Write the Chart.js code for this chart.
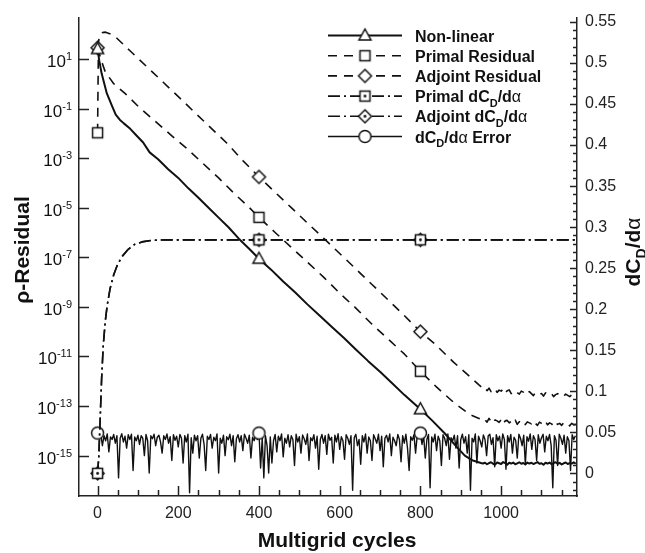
<!DOCTYPE html>
<html lang="en">
<head>
<meta charset="UTF-8">
<title>Convergence History</title>
<script src="https://cdn.jsdelivr.net/npm/chart.js@4.4.1/dist/chart.umd.min.js"></script>
<style>
    html, body { margin: 0; padding: 0; background: #fff; }
    #wrap { width: 645px; height: 553px; }
</style>
</head>
<body>
<div id="wrap"><canvas id="conv" width="645" height="553"></canvas></div>

<script>
// Axis ticks
const cycleTicks = [0, 200, 400, 600, 800, 1000];
const residualExponents = [1, -1, -3, -5, -7, -9, -11, -13, -15];
const derivTicks = [0, 0.05, 0.1, 0.15, 0.2, 0.25, 0.3, 0.35, 0.4, 0.45, 0.5, 0.55];
const markerCycles = [0, 400, 800];

// Residuals are kept as log10 values
const nonlinearCycles = [0, 4, 10, 23, 36, 45, 55, 65, 81, 97, 113, 129, 150, 175, 200, 225, 250, 275, 300, 325, 350, 375, 400,
    430, 460, 490, 520, 550, 580, 610, 640, 670, 700, 730, 760, 800, 830, 860, 890, 910, 930, 950];
const nonlinearLog = [1.4, 0.95, 0.42, -0.39, -0.9, -1.25, -1.45, -1.6, -1.82, -2.1, -2.37, -2.77, -3.05, -3.45, -3.8, -4.22, -4.6, -5.0, -5.4, -5.8, -6.25, -6.65, -7.06,
    -7.5, -7.98, -8.42, -8.9, -9.35, -9.8, -10.25, -10.72, -11.18, -11.62, -12.08, -12.55, -13.13, -13.6, -14.1, -14.65, -15.0, -15.2, -15.3];
// stalled part, every 5 cycles from 955
const nonlinearTailLog = [
    -15.32, -15.29, -15.35, -15.3, -15.27, -15.33, -15.36, -15.28, -15.31, -15.34,
    -15.26, -15.3, -15.37, -15.29, -15.32, -15.28, -15.35, -15.31, -15.27, -15.33,
    -15.3, -15.36, -15.28, -15.32, -15.29, -15.34, -15.3, -15.26, -15.33, -15.31,
    -15.37, -15.29, -15.32, -15.28, -15.35, -15.3, -15.27, -15.33, -15.29, -15.36,
    -15.31, -15.28, -15.34, -15.3, -15.32, -15.27, -15.33];

const primalResCycles = [0, 2, 10, 19, 40, 68, 105, 142, 184, 221, 260, 300, 340, 370, 400,
    440, 480, 520, 560, 600, 640, 680, 720, 760, 800, 841, 882, 923, 945];
const primalResLog = [-1.98, 1.35, 0.9, 0.48, 0.0, -0.39, -0.98, -1.5, -2.1, -2.61, -3.2, -3.8, -4.45, -4.9, -5.39,
    -6.0, -6.6, -7.2, -7.8, -8.45, -9.05, -9.7, -10.3, -10.9, -11.6, -12.25, -12.85, -13.35, -13.5];
// every 5 cycles from 950
const primalResTailLog = [
    -13.52, -13.6, -13.55, -13.65, -13.5, -13.62, -13.7, -13.56, -13.6, -13.66,
    -13.55, -13.72, -13.6, -13.58, -13.68, -13.62, -13.7, -13.57, -13.74, -13.63,
    -13.66, -13.6, -13.75, -13.64, -13.68, -13.72, -13.6, -13.7, -13.78, -13.65,
    -13.7, -13.74, -13.62, -13.76, -13.68, -13.72, -13.8, -13.66, -13.74, -13.7,
    -13.78, -13.68, -13.75, -13.72, -13.8, -13.7, -13.76, -13.74];

const adjointResCycles = [0, 5, 12, 20, 30, 43, 81, 123, 162, 204, 237, 280, 320, 360, 400,
    440, 480, 520, 560, 600, 640, 680, 720, 760, 800, 836, 882, 923, 945];
const adjointResLog = [1.45, 1.95, 2.06, 2.08, 2.02, 1.91, 1.32, 0.67, 0.07, -0.58, -1.1, -1.77, -2.39, -3.1, -3.76,
    -4.38, -5.0, -5.62, -6.23, -6.85, -7.47, -8.1, -8.72, -9.35, -10.0, -10.5, -11.23, -11.82, -12.15];
// every 5 cycles from 950
const adjointResTailLog = [
    -12.22, -12.3, -12.26, -12.38, -12.28, -12.42, -12.33, -12.3, -12.45, -12.36,
    -12.4, -12.32, -12.48, -12.38, -12.35, -12.5, -12.42, -12.38, -12.46, -12.52,
    -12.4, -12.44, -12.55, -12.46, -12.42, -12.5, -12.58, -12.45, -12.48, -12.53,
    -12.5, -12.6, -12.47, -12.52, -12.56, -12.5, -12.62, -12.54, -12.5, -12.58,
    -12.55, -12.6, -12.52, -12.57, -12.62, -12.55, -12.6, -12.58];

// dCD/dalpha, right axis
const derivCycles = [0, 3, 6, 10, 14, 19, 24, 31, 40, 50, 62, 76, 92, 110, 135, 170, 400, 800, 1188];
const primalDeriv = [0, 0.02, 0.06, 0.115, 0.155, 0.185, 0.205, 0.225, 0.242, 0.255, 0.265, 0.273, 0.279, 0.282, 0.284, 0.2845, 0.2845, 0.2845, 0.2845];
const adjointDeriv = [0, 0.02, 0.06, 0.115, 0.155, 0.185, 0.205, 0.225, 0.242, 0.255, 0.265, 0.273, 0.279, 0.282, 0.284, 0.2845, 0.2845, 0.2845, 0.2845];

// difference between the two derivatives, log10, every 4 cycles from 0
const errorStep = 4;
const errorLog = [
    -14.09, -14.3, -14.15, -14.6, -14.2, -14.4, -14.13, -14.85, -14.25, -14.35,
    -14.15, -14.5, -14.2, -15.9, -14.3, -14.12, -14.45, -14.22, -14.7, -14.16,
    -14.35, -14.14, -15.6, -14.25, -14.4, -14.18, -14.55, -14.2, -14.3, -15.0,
    -14.15, -14.4, -15.7, -14.2, -14.32, -14.14, -14.6, -14.26, -14.18, -14.45,
    -14.9, -14.2, -14.35, -14.13, -14.5, -14.24, -15.2, -14.16, -14.38, -14.22,
    -14.65, -14.15, -14.3, -15.3, -14.2, -14.45, -14.14, -16.5, -14.28, -14.9,
    -14.18, -14.4, -14.2, -15.1, -14.3, -14.14, -14.55, -15.6, -14.22, -14.35,
    -14.15, -14.7, -14.26, -14.4, -14.13, -15.7, -14.3, -14.5, -14.18, -15.0,
    -14.24, -14.36, -14.14, -14.6, -14.2, -15.25, -14.32, -14.16, -14.45, -14.2,
    -14.8, -14.14, -14.3, -14.5, -14.18, -15.1, -14.26, -14.4, -14.13, -14.35,
    -14.09, -15.5, -14.3, -15.9, -14.2, -14.6, -15.7, -14.25, -15.3, -14.4,
    -14.15, -14.85, -14.22, -14.4, -14.13, -15.05, -14.3, -14.5, -14.16, -14.65,
    -14.2, -14.35, -15.4, -14.14, -14.45, -14.24, -14.9, -14.17, -14.32, -14.55,
    -14.13, -15.2, -14.28, -14.4, -14.16, -14.7, -14.22, -15.55, -14.35, -14.15,
    -14.5, -14.2, -14.95, -14.14, -14.38, -14.26, -15.3, -14.18, -14.45, -14.12,
    -14.75, -14.24, -14.4, -15.15, -14.16, -14.3, -14.55, -14.2, -16.4, -14.28,
    -14.14, -14.6, -14.35, -15.35, -14.2, -14.45, -14.13, -14.9, -14.25, -14.4,
    -15.2, -14.16, -14.32, -14.5, -14.14, -14.8, -14.22, -15.45, -14.3, -14.18,
    -14.45, -14.13, -15.0, -14.26, -14.4, -14.6, -14.15, -14.35, -15.25, -14.2,
    -14.5, -14.14, -14.7, -15.6, -14.24, -14.38, -14.16, -14.9, -14.2, -14.3,
    -14.09, -14.55, -14.2, -15.1, -14.35, -14.15, -16.3, -14.25, -14.45, -14.14,
    -14.8, -14.22, -14.4, -15.4, -14.16, -14.3, -14.6, -14.13, -15.15, -14.28,
    -14.4, -14.18, -14.7, -14.2, -15.5, -14.35, -14.14, -14.5, -14.24, -14.9,
    -14.16, -16.4, -14.3, -14.45, -14.13, -15.3, -14.22, -14.4, -14.65, -14.17,
    -14.35, -15.0, -14.2, -14.14, -14.55, -14.28, -15.45, -14.16, -14.4, -14.22,
    -14.7, -14.13, -14.35, -15.55, -14.2, -14.45, -14.15, -14.9, -14.26, -14.38,
    -15.1, -14.14, -14.3, -14.6, -14.18, -15.35, -14.24, -14.42, -14.13, -14.75,
    -14.2, -14.35, -15.2, -14.16, -14.5, -14.28, -14.14, -14.85, -14.22, -14.4,
    -14.15, -14.6, -16.3, -14.2, -14.38, -15.4, -14.14, -14.3, -14.55, -14.18,
    -14.9, -14.24, -14.4, -15.6, -14.16, -14.35, -14.2];

const tailStep = 5;
const nonlinearTailStart = 955;
const residualTailStart = 950;

// ---- helpers ----
const family = "'Liberation Sans', Arial, sans-serif";
const ink = '#111';

function logPoints(cycles, logs) {
    return cycles.map((c, i) => ({ x: c, y: Math.pow(10, logs[i]) }));
}
function stepPoints(start, step, logs) {
    return logs.map((v, i) => ({ x: start + i * step, y: Math.pow(10, v) }));
}
function linPoints(cycles, vals) {
    return cycles.map((c, i) => ({ x: c, y: vals[i] }));
}

function makeMarker(shape, dot) {
    const c = document.createElement('canvas');
    c.width = 17; c.height = 17;
    const g = c.getContext('2d');
    g.translate(8.5, 8.5);
    g.lineWidth = 1.5;
    g.strokeStyle = ink;
    g.fillStyle = '#fff';
    g.beginPath();
    if (shape === 'triangle') {
        g.moveTo(0, -6.5); g.lineTo(6, 4.5); g.lineTo(-6, 4.5); g.closePath();
    } else if (shape === 'square') {
        g.rect(-5, -5, 10, 10);
    } else if (shape === 'diamond') {
        g.moveTo(0, -6.5); g.lineTo(6.5, 0); g.lineTo(0, 6.5); g.lineTo(-6.5, 0); g.closePath();
    } else {
        g.arc(0, 0, 6, 0, Math.PI * 2);
    }
    g.fill();
    g.stroke();
    if (dot) {
        g.fillStyle = ink;
        g.beginPath();
        g.arc(0, 0, 1.4, 0, Math.PI * 2);
        g.fill();
    }
    return c;
}

const markers = {
    triangle: makeMarker('triangle'),
    square: makeMarker('square'),
    diamond: makeMarker('diamond'),
    squareDot: makeMarker('square', true),
    diamondDot: makeMarker('diamond', true),
    circle: makeMarker('circle')
};

const dashed = [9, 7];
const dashDot = [12, 4, 2, 4];

function series(label, data, axis, width, dash, marker) {
    return {
        label, data,
        yAxisID: axis,
        borderColor: ink,
        borderWidth: width,
        borderDash: dash,
        borderJoinStyle: 'round',
        tension: 0,
        fill: false,
        pointStyle: marker,
        pointRadius: c => (c.raw && markerCycles.includes(c.raw.x)) ? 6 : 0,
        pointHoverRadius: 0
    };
}

const datasets = [
    series('Non-linear', logPoints(nonlinearCycles, nonlinearLog).concat(stepPoints(nonlinearTailStart, tailStep, nonlinearTailLog)), 'y', 2, [], markers.triangle),
    series('Primal Residual', logPoints(primalResCycles, primalResLog).concat(stepPoints(residualTailStart, tailStep, primalResTailLog)), 'y', 1.6, dashed, markers.square),
    series('Adjoint Residual', logPoints(adjointResCycles, adjointResLog).concat(stepPoints(residualTailStart, tailStep, adjointResTailLog)), 'y', 1.6, dashed, markers.diamond),
    series('Primal dCD/da', linPoints(derivCycles, primalDeriv), 'y2', 1.6, dashDot, markers.squareDot),
    series('Adjoint dCD/da', linPoints(derivCycles, adjointDeriv), 'y2', 1.6, dashDot, markers.diamondDot),
    series('dCD/da Error', stepPoints(0, errorStep, errorLog), 'y', 1.4, [], markers.circle)
];

// legend rows: text pieces, 'sub' marks a subscript
const legendRows = [
    [['Non-linear']],
    [['Primal Residual']],
    [['Adjoint Residual']],
    [['Primal dC'], ['D', 'sub'], ['/d'], ['\u03b1', 'greek']],
    [['Adjoint dC'], ['D', 'sub'], ['/d'], ['\u03b1', 'greek']],
    [['dC'], ['D', 'sub'], ['/d'], ['\u03b1', 'greek'], [' Error']]
];

function partFont(kind, size) {
    if (kind === 'sub') return `bold ${Math.round(size * 0.68)}px ${family}`;
    if (kind === 'greek') return `${size}px ${family}`;
    return `bold ${size}px ${family}`;
}
function partsWidth(ctx, parts, size) {
    let w = 0;
    for (const [t, kind] of parts) { ctx.font = partFont(kind, size); w += ctx.measureText(t).width; }
    return w;
}
function drawParts(ctx, parts, x, y, size) {
    let cx = x;
    for (const [t, kind] of parts) {
        ctx.font = partFont(kind, size);
        ctx.fillText(t, cx, kind === 'sub' ? y + size * 0.28 : y);
        cx += ctx.measureText(t).width;
    }
}

// ticks pointing inwards, power-of-ten labels, axis titles and legend
const decorations = {
    id: 'decorations',
    afterDraw(chart) {
        const { ctx, chartArea: a, scales } = chart;
        const xs = scales.x, ys = scales.y, y2 = scales.y2;
        ctx.save();
        ctx.strokeStyle = '#222';
        ctx.fillStyle = ink;
        ctx.lineWidth = 1.5;
        ctx.setLineDash([]);

        ctx.beginPath();
        for (let v = 0; v <= 1150; v += 50) {
            const px = Math.round(xs.getPixelForValue(v)) + 0.5;
            const len = v % 200 === 0 ? 10 : 6;
            ctx.moveTo(px, a.bottom); ctx.lineTo(px, a.bottom - len);
        }
        for (const e of residualExponents) {
            const py = Math.round(ys.getPixelForValue(Math.pow(10, e))) + 0.5;
            ctx.moveTo(a.left, py); ctx.lineTo(a.left + 10, py);
        }
        for (let i = -2; i <= 55; i++) {
            const py = Math.round(y2.getPixelForValue(i / 100)) + 0.5;
            const len = i % 5 === 0 ? 7 : 4;
            ctx.moveTo(a.right, py); ctx.lineTo(a.right - len, py);
        }
        ctx.stroke();

        // 10^n labels on the left axis
        ctx.textBaseline = 'alphabetic';
        ctx.textAlign = 'left';
        for (const e of residualExponents) {
            const py = ys.getPixelForValue(Math.pow(10, e));
            const sup = String(e);
            ctx.font = `11px ${family}`;
            const ws = ctx.measureText(sup).width;
            ctx.font = `17px ${family}`;
            const wb = ctx.measureText('10').width;
            ctx.fillText('10', 72 - ws - wb, py + 8);
            ctx.font = `11px ${family}`;
            ctx.fillText(sup, 72 - ws, py + 1);
        }

        // axis titles
        ctx.font = `bold 21px ${family}`;
        ctx.textAlign = 'center';
        ctx.fillText('Multigrid cycles', 337, 547);

        ctx.save();
        ctx.translate(29, 250);
        ctx.rotate(-Math.PI / 2);
        ctx.fillText('\u03c1-Residual', 0, 0);
        ctx.restore();

        const rightTitle = [['dC'], ['D', 'sub'], ['/d'], ['\u03b1', 'greek']];
        ctx.save();
        ctx.translate(640, 252);
        ctx.rotate(-Math.PI / 2);
        ctx.textAlign = 'left';
        drawParts(ctx, rightTitle, -partsWidth(ctx, rightTitle, 21) / 2, 0, 21);
        ctx.restore();

        // legend
        ctx.textAlign = 'left';
        legendRows.forEach((parts, i) => {
            const ds = datasets[i];
            const ry = 35.5 + i * 20.2;
            ctx.strokeStyle = ink;
            ctx.lineWidth = ds.borderWidth;
            ctx.setLineDash(ds.borderDash);
            ctx.beginPath();
            ctx.moveTo(328, ry); ctx.lineTo(402, ry);
            ctx.stroke();
            ctx.setLineDash([]);
            ctx.drawImage(ds.pointStyle, 365 - 8.5, ry - 8.5);
            drawParts(ctx, parts, 415, ry + 6, 16);
        });
        ctx.restore();
    }
};

Chart.defaults.font.family = family;
Chart.defaults.color = '#222';

const axisBorder = { display: true, color: '#222', width: 1.5 };

new Chart(document.getElementById('conv'), {
    type: 'line',
    data: { datasets },
    options: {
        responsive: false,
        animation: false,
        devicePixelRatio: 1,
        events: [],
        layout: { padding: { top: 10, left: 0, right: 0, bottom: 0 } },
        plugins: { legend: { display: false }, tooltip: { enabled: false } },
        scales: {
            x: {
                type: 'linear', min: -46, max: 1188,
                afterBuildTicks: s => { s.ticks = cycleTicks.map(v => ({ value: v })); },
                afterFit: s => { s.height = 57; },
                grid: { display: false, drawTicks: false },
                border: axisBorder,
                ticks: { font: { size: 16 }, padding: 8, maxRotation: 0, autoSkip: false, callback: v => String(v) }
            },
            y: {
                type: 'logarithmic', position: 'left',
                min: Math.pow(10, -16.63), max: Math.pow(10, 2.667),
                afterFit: s => { s.width = 79; },
                grid: { display: false, drawTicks: false },
                border: axisBorder,
                ticks: { display: false }
            },
            y2: {
                type: 'linear', position: 'right',
                min: -0.0276, max: 0.5553,
                afterBuildTicks: s => { s.ticks = derivTicks.map(v => ({ value: v })); },
                afterFit: s => { s.width = 68; },
                grid: { display: false, drawTicks: false },
                border: axisBorder,
                ticks: { font: { size: 16 }, padding: 8, callback: v => String(+v.toFixed(2)) }
            }
        }
    },
    plugins: [decorations]
});
</script>
</body>
</html>
